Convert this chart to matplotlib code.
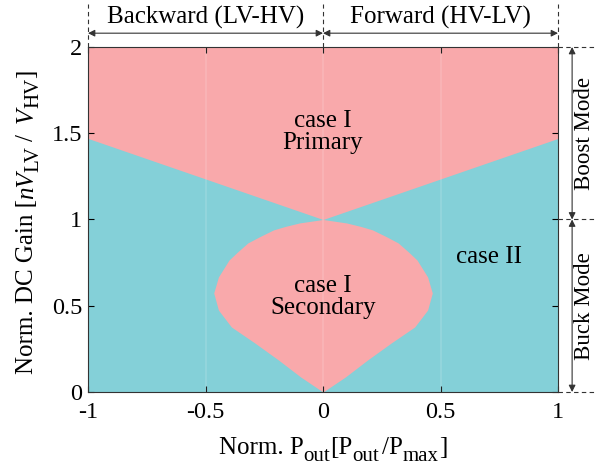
import numpy as np
import matplotlib
matplotlib.use("Agg")
import matplotlib.pyplot as plt
from matplotlib.transforms import IdentityTransform

plt.rcParams['font.family'] = ['Liberation Serif', 'DejaVu Serif']
plt.rcParams['axes.unicode_minus'] = False

# Граница области case I Primary (верхняя часть): P -> коэффициент
upper_p = [-1.0, 0.0, 1.0]
upper_gain = [1.47, 1.0, 1.47]

# Граница области case I Secondary: коэффициент -> полуширина по мощности
lens_gain = [0.0, 0.087, 0.186, 0.284, 0.377, 0.475, 0.574, 0.667, 0.765, 0.81,
             0.864, 0.90, 0.94, 0.96, 0.98, 0.99, 1.0]
lens_half = [0.0, 0.095, 0.19, 0.29, 0.39, 0.445, 0.465, 0.445, 0.40, 0.365,
             0.32, 0.27, 0.21, 0.16, 0.10, 0.05, 0.0]

xticks = [-1, -0.5, 0, 0.5, 1]
yticks = [0, 0.5, 1, 1.5, 2]

pink = '#F9A9AB'
cyan = '#84D0D8'
fs = 18
fs_tick = 17.5
fs_sub = 15
dark = '#333333'

fig = plt.figure(figsize=(5.97, 4.68), dpi=100)
ax = fig.add_axes([0.1474, 0.1624, 0.7873, 0.7372])

ax.set_facecolor(cyan)
ax.fill_between(upper_p, upper_gain, 2, color=pink, lw=0)
lh = np.array(lens_half)
ax.fill_betweenx(lens_gain, -lh, lh, color=pink, lw=0)

# слабые вертикальные полосы
for xv in [-0.5, 0, 0.5]:
    ax.axvline(xv, color='white', lw=1.2, alpha=0.15)

ax.text(0, 1.51, 'case I\nPrimary', ha='center', va='center', fontsize=fs, linespacing=1.0)
ax.text(0, 0.548, 'case I\nSecondary', ha='center', va='center', fontsize=fs, linespacing=1.0)
ax.text(0.708, 0.78, 'case II', ha='center', va='center', fontsize=fs)

ax.set_xlim(-1, 1)
ax.set_ylim(0, 2)
ax.set_xticks(xticks)
ax.set_xticklabels(['-1', '-0.5', '0', '0.5', '1'])
ax.set_yticks(yticks)
ax.set_yticklabels(['0', '0.5', '1', '1.5', '2'])
ax.tick_params(direction='in', top=True, right=True, labelsize=fs_tick, length=4)
ax.tick_params(axis='x', pad=7)
ax.tick_params(axis='y', pad=4)
for s in ax.spines.values():
    s.set_linewidth(0.8)
    s.set_color(dark)

# направления передачи мощности сверху
tr_top = ax.get_xaxis_transform()
for xv in [-1, 0, 1]:
    ax.plot([xv, xv], [1.0, 1.125], transform=tr_top, color=dark,
            lw=0.8, ls=(0, (4, 3)), clip_on=False)
for x0, x1, lbl in [(-1, 0, 'Backward (LV-HV)'), (0, 1, 'Forward (HV-LV)')]:
    ax.annotate('', xy=(x0, 1.04), xytext=(x1, 1.04), xycoords=tr_top, textcoords=tr_top,
                arrowprops=dict(arrowstyle='<|-|>', color=dark, lw=0.8,
                                shrinkA=0, shrinkB=0, mutation_scale=10))
    ax.text((x0 + x1) / 2, 1.087, lbl, transform=tr_top, ha='center', va='center', fontsize=fs)

# режимы справа
tr_right = ax.get_yaxis_transform()
for yv in [0, 1, 2]:
    ax.plot([1.0, 1.085], [yv, yv], transform=tr_right, color=dark,
            lw=0.8, ls=(0, (4, 3)), clip_on=False)
for y0, y1, lbl in [(1, 2, 'Boost Mode'), (0, 1, 'Buck Mode')]:
    ax.annotate('', xy=(1.03, y0), xytext=(1.03, y1), xycoords=tr_right, textcoords=tr_right,
                arrowprops=dict(arrowstyle='<|-|>', color=dark, lw=0.8,
                                shrinkA=0, shrinkB=0, mutation_scale=10))
    ax.text(1.056, (y0 + y1) / 2, lbl, transform=tr_right, ha='center', va='center',
            rotation=90, fontsize=16.5)


# подписи осей собираются из кусков, чтобы индексы были крупными
def rich_label(pieces, x0, y0, rotation=0):
    # pieces: (текст, размер, стиль, сдвиг базовой линии в px, отступ после в px)
    renderer = fig.canvas.get_renderer()
    arts, widths = [], []
    for s, size, style, shift, gap in pieces:
        t = fig.text(0, 0, s, fontsize=size, style=style, transform=IdentityTransform(),
                     ha='left', va='baseline', rotation=rotation, rotation_mode='anchor')
        bb = t.get_window_extent(renderer)
        widths.append((bb.width if rotation == 0 else bb.height) + gap)
        arts.append(t)
    pos = -sum(widths) / 2
    for t, w, p in zip(arts, widths, pieces):
        if rotation == 0:
            t.set_position((x0 + pos, y0 - p[3]))
        else:
            t.set_position((x0 + p[3], y0 + pos))
        pos += w


xlabel_parts = [('Norm. P', fs, 'normal', 0, 0), ('out', fs_sub, 'normal', 7, 0),
                ('[P', fs, 'normal', 0, 0), ('out', fs_sub, 'normal', 7, 3),
                ('/P', fs, 'normal', 0, 0), ('max', fs_sub, 'normal', 7, 0),
                (']', fs, 'normal', 0, 0)]
rich_label(xlabel_parts, 333, 14)

ylabel_parts = [('Norm. DC Gain [', fs, 'normal', 0, 0), ('nV', fs, 'italic', 0, 0),
                ('LV', fs_sub, 'normal', 5, 5), ('/ ', fs, 'normal', 0, 4),
                ('V', fs, 'italic', 0, 0), ('HV', fs_sub, 'normal', 5, 0),
                (']', fs, 'normal', 0, 0)]
rich_label(ylabel_parts, 33, 246, rotation=90)

fig.savefig('out.png', dpi=100)
